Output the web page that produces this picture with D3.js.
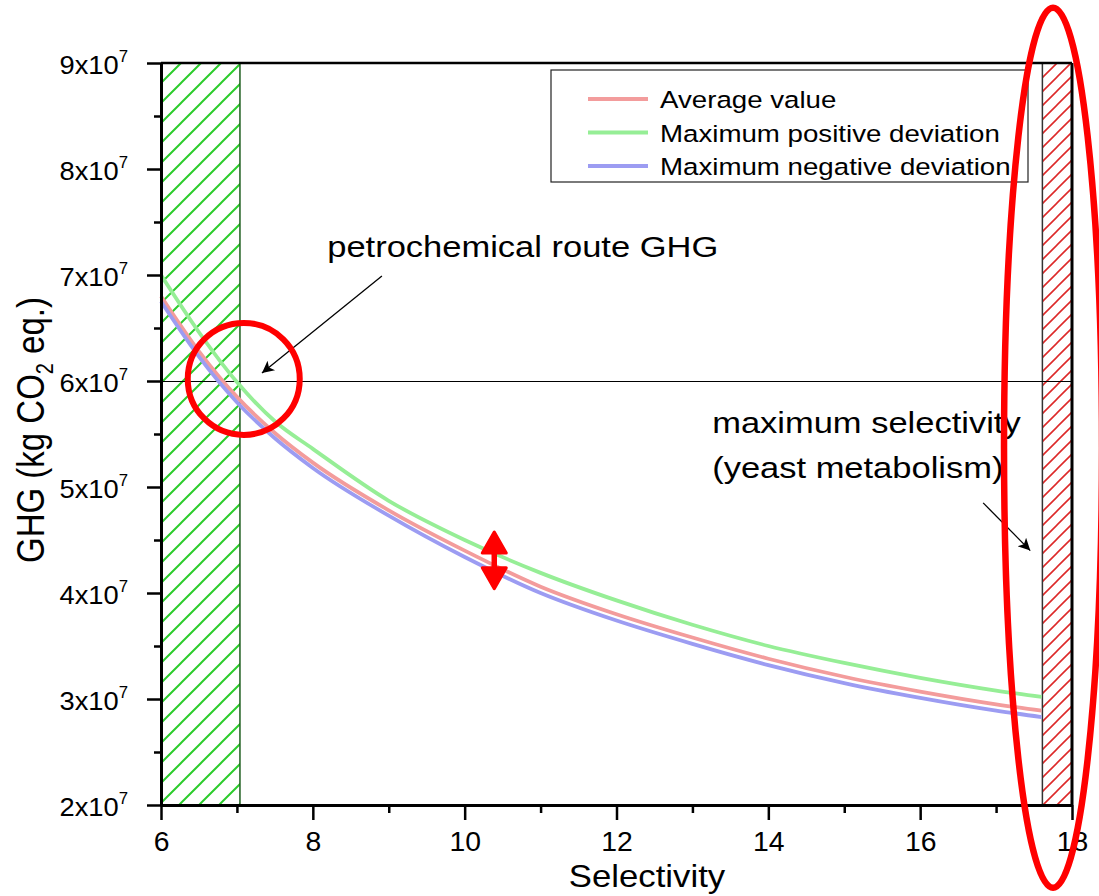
<!DOCTYPE html>
<html>
<head>
<meta charset="utf-8">
<script src="https://cdn.jsdelivr.net/npm/d3@7"></script>
<style>
  body { margin: 0; background: #fff; }
  svg { display: block; font-family: "Liberation Sans", Arial, sans-serif; }
</style>
</head>
<body>
<div id="chart"></div>
<script>
// --------- DATA ---------
const selectivity = [6, 6.5, 7, 7.5, 8, 9, 10, 11, 12, 13, 14, 15, 16, 17, 17.6];
const ghgAverage  = [6.80e7, 6.28e7, 5.85e7, 5.51e7, 5.23e7, 4.78e7, 4.40e7, 4.06e7, 3.80e7, 3.58e7, 3.38e7, 3.21e7, 3.07e7, 2.95e7, 2.89e7];
const ghgPositive = [7.00e7, 6.46e7, 5.99e7, 5.62e7, 5.36e7, 4.87e7, 4.50e7, 4.19e7, 3.93e7, 3.70e7, 3.50e7, 3.34e7, 3.20e7, 3.08e7, 3.02e7];
const ghgNegative = [6.75e7, 6.23e7, 5.80e7, 5.46e7, 5.18e7, 4.73e7, 4.34e7, 4.00e7, 3.74e7, 3.52e7, 3.32e7, 3.15e7, 3.01e7, 2.89e7, 2.83e7];
const seriesNames = ["Average value", "Maximum positive deviation", "Maximum negative deviation"];
const xTicks = [6, 8, 10, 12, 14, 16, 18];
const xMinorTicks = [7, 9, 11, 13, 15, 17];
const yMantissas = [2, 3, 4, 5, 6, 7, 8, 9];
const yMinorMantissas = [2.5, 3.5, 4.5, 5.5, 6.5, 7.5, 8.5];
const petroGHG = 6e7;
const lowRange = [6, 7.04];     // green hatched band
const yeastRange = [17.61, 18]; // red hatched band

// --------- LAYOUT ---------
const SX = 1.15; // horizontal stretch of the original picture's text
let margin = {top: 63, right: 27, bottom: 91, left: 161},
    width = 1099 - margin.left - margin.right,
    height = 896 - margin.top - margin.bottom;

let svg = d3.select("#chart").append("svg")
    .attr("width", 1099).attr("height", 896);

let defs = svg.append("defs");
defs.append("pattern").attr("id", "hatchGreen")
    .attr("patternUnits", "userSpaceOnUse").attr("width", 20).attr("height", 20)
    .append("path").attr("d", "M-5,5 L5,-5 M0,20 L20,0 M15,25 L25,15")
    .attr("stroke", "#2ccc2c").attr("stroke-width", 2);
defs.append("pattern").attr("id", "hatchRed")
    .attr("patternUnits", "userSpaceOnUse").attr("width", 14).attr("height", 14)
    .append("path").attr("d", "M-4,4 L4,-4 M0,14 L14,0 M10,18 L18,10")
    .attr("stroke", "#dd2a2a").attr("stroke-width", 1.6);
defs.append("marker").attr("id", "arrowBlack")
    .attr("viewBox", "0 0 10 10").attr("refX", 10).attr("refY", 5)
    .attr("markerUnits", "userSpaceOnUse").attr("markerWidth", 19).attr("markerHeight", 12)
    .attr("orient", "auto")
    .append("path").attr("d", "M0,0 L10,5 L0,10 L2.5,5 Z").attr("fill", "#000");

let graph = svg.append("g")
    .attr("transform", "translate(" + margin.left + "," + margin.top + ")");

let x = d3.scaleLinear().domain([6, 18]).range([0, width]);
let y = d3.scaleLinear().domain([2e7, 9e7]).range([height, 0]);

function stretchedText(parent, px, py, str, size, anchor, sx) {
    let t = parent.append("g")
        .attr("transform", "translate(" + px + "," + py + ") scale(" + (sx || SX) + ",1)")
        .append("text")
        .attr("font-size", size)
        .attr("text-anchor", anchor || "start")
        .attr("fill", "#000");
    if (str !== null) t.text(str);
    return t;
}

// Hatched bands
graph.append("rect")
    .attr("x", x(lowRange[0])).attr("y", 0)
    .attr("width", x(lowRange[1]) - x(lowRange[0])).attr("height", height)
    .attr("fill", "url(#hatchGreen)");
graph.append("rect")
    .attr("x", x(yeastRange[0])).attr("y", 0)
    .attr("width", x(yeastRange[1]) - x(yeastRange[0])).attr("height", height)
    .attr("fill", "url(#hatchRed)");
graph.append("line")
    .attr("x1", x(lowRange[1])).attr("x2", x(lowRange[1]))
    .attr("y1", 0).attr("y2", height)
    .attr("stroke", "#1f5f1f").attr("stroke-width", 1.5);
graph.append("line")
    .attr("x1", x(yeastRange[0])).attr("x2", x(yeastRange[0]))
    .attr("y1", 0).attr("y2", height)
    .attr("stroke", "#333").attr("stroke-width", 1.5);

// Petrochemical reference line
graph.append("line")
    .attr("x1", 0).attr("x2", width)
    .attr("y1", Math.round(y(petroGHG)) + 0.5).attr("y2", Math.round(y(petroGHG)) + 0.5)
    .attr("stroke", "#000").attr("stroke-width", 1.2);

// Curves
let line = d3.line()
    .x(d => x(d[0]))
    .y(d => y(d[1]))
    .curve(d3.curveMonotoneX);

let series = [
    {name: seriesNames[1], values: ghgPositive, color: "#96ee96"},
    {name: seriesNames[0], values: ghgAverage, color: "#f39c9c"},
    {name: seriesNames[2], values: ghgNegative, color: "#9c9cf2"}
];
series.forEach(s => {
    graph.append("path")
        .attr("fill", "none")
        .attr("stroke", s.color)
        .attr("stroke-width", 3.8)
        .attr("d", line(selectivity.map((v, i) => [v, s.values[i]])));
});

// Axes
let xAxis = graph.append("g")
    .attr("transform", "translate(0," + height + ")")
    .call(d3.axisBottom(x).tickValues(xTicks).tickSize(15).tickSizeOuter(0).tickFormat(""));
graph.append("g")
    .attr("transform", "translate(0," + height + ")")
    .call(d3.axisBottom(x).tickValues(xMinorTicks).tickSize(8).tickSizeOuter(0).tickFormat(""))
    .select(".domain").remove();
let yAxis = graph.append("g")
    .call(d3.axisLeft(y).tickValues(yMantissas.map(m => m * 1e7)).tickSize(14).tickSizeOuter(0).tickFormat(""));
graph.append("g")
    .call(d3.axisLeft(y).tickValues(yMinorMantissas.map(m => m * 1e7)).tickSize(7).tickSizeOuter(0).tickFormat(""))
    .select(".domain").remove();

graph.selectAll(".domain").attr("stroke-width", 3).attr("stroke", "#000");
graph.selectAll(".tick line").attr("stroke-width", 2.5).attr("stroke", "#000");

xAxis.selectAll(".tick").each(function(d) {
    stretchedText(d3.select(this), 0, 46, d, 27, "middle", 1.05);
});
yAxis.selectAll(".tick").each(function(d) {
    let t = stretchedText(d3.select(this), -33, 10, null, 26, "end", 1.05);
    t.append("tspan").text(Math.round(d / 1e7) + "x10");
    t.append("tspan").attr("dy", -12).attr("font-size", 16).text("7");
});

// Frame (top and right)
graph.append("line").attr("x1", 0).attr("x2", width).attr("y1", 0).attr("y2", 0)
    .attr("stroke", "#000").attr("stroke-width", 2.5);
graph.append("line").attr("x1", width).attr("x2", width).attr("y1", 0).attr("y2", height)
    .attr("stroke", "#000").attr("stroke-width", 3);

// Axis titles
stretchedText(svg, 647, 887, "Selectivity", 31, "middle", 1.12);
let yTitle = svg.append("g")
    .attr("transform", "translate(44,430) scale(1.15,1) rotate(-90)")
    .append("text").attr("font-size", 33).attr("text-anchor", "middle");
yTitle.append("tspan").text("GHG (kg CO");
yTitle.append("tspan").attr("dy", 8).attr("font-size", 20).text("2");
yTitle.append("tspan").attr("dy", -8).text(" eq.)");

// Legend
let legend = graph.append("g").attr("transform", "translate(390,7)");
legend.append("rect")
    .attr("width", 477).attr("height", 112)
    .attr("fill", "#fff").attr("stroke", "#222").attr("stroke-width", 1.2);
[series[1], series[0], series[2]].forEach((s, i) => {
    let ly = 29 + i * 33.5;
    legend.append("line")
        .attr("x1", 37).attr("x2", 97).attr("y1", ly).attr("y2", ly)
        .attr("stroke", s.color).attr("stroke-width", 3.8);
    stretchedText(legend, 109, ly + 9, s.name, 24.5, "start", 1.13);
});

// Annotations
stretchedText(graph, x(8.19), y(7.17e7), "petrochemical route GHG", 30, "start", 1.15);
graph.append("line")
    .attr("x1", x(8.91)).attr("y1", y(6.99e7))
    .attr("x2", x(7.33)).attr("y2", y(6.075e7))
    .attr("stroke", "#000").attr("stroke-width", 1.3)
    .attr("marker-end", "url(#arrowBlack)");
stretchedText(graph, x(13.26), y(5.51e7), "maximum selectivity", 30, "start", 1.15);
stretchedText(graph, x(13.26), y(5.085e7), "(yeast metabolism)", 30, "start", 1.15);
graph.append("line")
    .attr("x1", x(16.83)).attr("y1", y(4.85e7))
    .attr("x2", x(17.45)).attr("y2", y(4.40e7))
    .attr("stroke", "#000").attr("stroke-width", 1.3)
    .attr("marker-end", "url(#arrowBlack)");

// Red highlight marks drawn over the chart
graph.append("circle")
    .attr("cx", x(7.09)).attr("cy", y(6.02e7)).attr("r", 56)
    .attr("fill", "none").attr("stroke", "#ff0000").attr("stroke-width", 6);
graph.append("ellipse")
    .attr("cx", x(17.75)).attr("cy", y(5.37e7)).attr("rx", 49).attr("ry", 440)
    .attr("fill", "none").attr("stroke", "#ff0000").attr("stroke-width", 6.5);

let ax = x(10.39), aTop = y(4.575e7), aBot = y(4.04e7);
graph.append("line")
    .attr("x1", ax).attr("x2", ax).attr("y1", aTop + 8).attr("y2", aBot - 8)
    .attr("stroke", "#ff0000").attr("stroke-width", 5.5);
graph.append("path")
    .attr("d", "M" + ax + "," + aTop + " l-12,21 l24,0 Z M" + ax + "," + aBot + " l-12,-21 l24,0 Z")
    .attr("fill", "#ff0000").attr("stroke", "#ff0000").attr("stroke-width", 3)
    .attr("stroke-linejoin", "round");
</script>
</body>
</html>
